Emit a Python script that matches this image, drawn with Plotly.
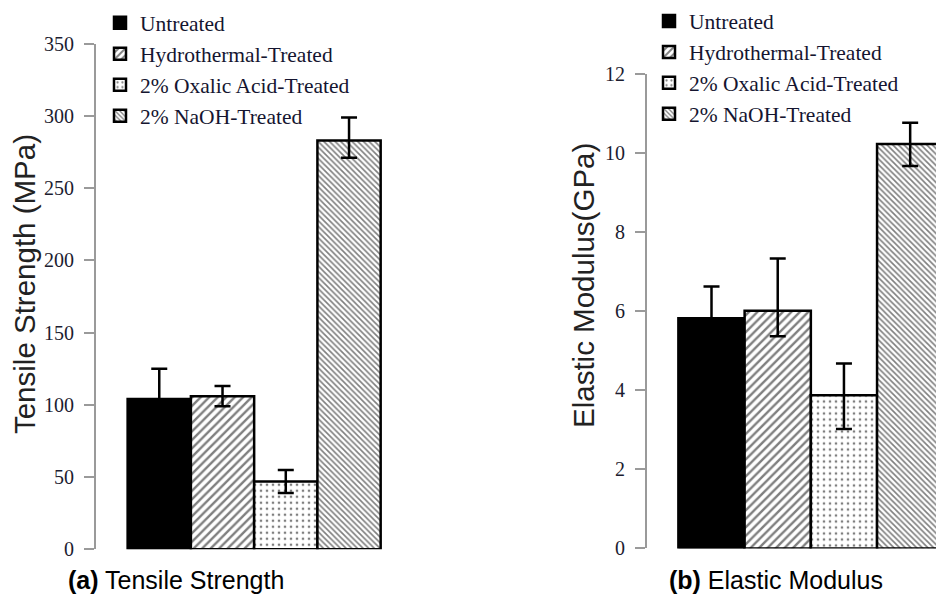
import plotly.graph_objects as go

W, H = 936, 594

categories = ["Untreated", "Hydrothermal-Treated", "2% Oxalic Acid-Treated", "2% NaOH-Treated"]
tensile = [104, 106, 47, 283]
tensile_err_plus = [21, 7, 8, 16]
tensile_err_minus = [21, 7, 8, 12]
modulus = [5.83, 6.02, 3.88, 10.24]
modulus_err_plus = [0.80, 1.32, 0.80, 0.54]
modulus_err_minus = [0.80, 0.65, 0.86, 0.56]
tensile_ticks = [0, 50, 100, 150, 200, 250, 300, 350]
modulus_ticks = [0, 2, 4, 6, 8, 10, 12]

patterns = [
    dict(color="black", pattern=dict(shape="")),
    dict(color="white", pattern=dict(shape="/", fgcolor="black", bgcolor="white", size=6, solidity=0.4)),
    dict(color="white", pattern=dict(shape=".", fgcolor="black", bgcolor="white", size=6, solidity=0.16)),
    dict(color="white", pattern=dict(shape="\\", fgcolor="black", bgcolor="white", size=4, solidity=0.4)),
]

fig = go.Figure()

def add_panel(values, ep, em, xa, ya, legend):
    for i, cat in enumerate(categories):
        m = dict(patterns[i])
        m["line"] = dict(color="black", width=2.5)
        fig.add_trace(go.Bar(
            x=[cat], y=[values[i]], width=1, name=cat,
            marker=m, xaxis=xa, yaxis=ya, legend=legend,
            error_y=dict(type="data", array=[ep[i]], arrayminus=[em[i]],
                         symmetric=False, color="black", thickness=2.5, width=8),
        ))

add_panel(tensile, tensile_err_plus, tensile_err_minus, "x", "y", "legend")
add_panel(modulus, modulus_err_plus, modulus_err_minus, "x2", "y2", "legend2")

SERIF = "Liberation Serif, Times New Roman, serif"
SANS = "Liberation Sans, Arial, sans-serif"

def yax(ticks, rng, dom, anchor):
    return dict(domain=dom, range=rng, tickvals=ticks, anchor=anchor,
                showline=True, linecolor="#9a9a9a", linewidth=2, ticks="outside",
                ticklen=10, tickwidth=2, tickcolor="#9a9a9a",
                tickfont=dict(family=SERIF, size=20, color="#1c1c30"),
                showgrid=False, zeroline=False, ticklabelstandoff=6)

def xax(dom, rng, anchor):
    return dict(domain=dom, range=rng, anchor=anchor, type="category",
                categoryorder="array", categoryarray=categories,
                showticklabels=False, showline=False, showgrid=False, zeroline=False, ticks="")

def leg(x, y):
    return dict(x=x, y=y, font=dict(family=SERIF, size=21.5, color="#151530"),
                bgcolor="rgba(0,0,0,0)", xanchor="left", yanchor="top", tracegroupgap=0)

fig.update_layout(
    width=W, height=H,
    margin=dict(l=0, r=0, t=0, b=0),
    paper_bgcolor="white", plot_bgcolor="white",
    barmode="overlay",
    showlegend=True,
    xaxis=xax([96 / W, 387 / W], [-1.0, 3.6], "y"),
    yaxis=yax(tensile_ticks, [0, 350], [(H - 559) / H, (H - 33) / H], "x"),
    xaxis2=xax([647 / W, 1.0], [-0.974, 3.39], "y2"),
    yaxis2=yax(modulus_ticks, [0, 12], [(H - 558) / H, (H - 65) / H], "x2"),
    legend=leg(100 / W, (H + 10) / H),
    legend2=leg(649 / W, (H + 12) / H),
    annotations=[
        dict(text="Tensile Strength (MPa)", x=24 / W, y=(H - 283) / H, xref="paper", yref="paper",
             xanchor="center", yanchor="middle",
             textangle=-90, showarrow=False, font=dict(family=SANS, size=29.5, color="#222")),
        dict(text="Elastic Modulus(GPa)", x=584 / W, y=(H - 285) / H, xref="paper", yref="paper",
             xanchor="center", yanchor="middle",
             textangle=-90, showarrow=False, font=dict(family=SANS, size=29.5, color="#222")),
        dict(text="<b>(a)</b> Tensile Strength", x=66 / W, y=(H - 591) / H, xref="paper", yref="paper",
             xanchor="left", yanchor="middle", showarrow=False,
             font=dict(family=SANS, size=25, color="black")),
        dict(text="<b>(b)</b> Elastic Modulus", x=667 / W, y=(H - 591) / H, xref="paper", yref="paper",
             xanchor="left", yanchor="middle", showarrow=False,
             font=dict(family=SANS, size=25, color="black")),
    ],
)

fig.write_html("out.html")
